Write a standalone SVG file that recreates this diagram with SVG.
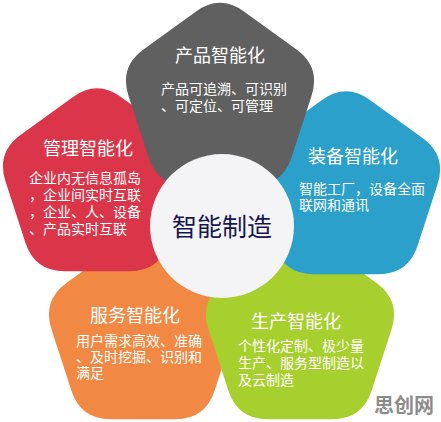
<svg xmlns="http://www.w3.org/2000/svg" width="441" height="422" viewBox="0 0 441 422">
<defs>
<path id="pent" d="M -24.27,-88.37 Q 0,-106 24.27,-88.37 L 76.54,-50.39 Q 100.81,-32.76 91.54,-4.23 L 71.58,57.23 Q 62.31,85.76 32.31,85.76 L -32.31,85.76 Q -62.31,85.76 -71.58,57.23 L -91.54,-4.23 Q -100.81,-32.76 -76.54,-50.39 Z"/>
</defs>
<style>
text{font-family:"Noto Sans CJK SC","Noto Sans",sans-serif;fill:#ffffff}
.t{font-size:18px;text-anchor:middle}
.b{font-size:14px}
.c{font-size:25px;text-anchor:middle;fill:#16174f}
.w{font-size:20px;font-weight:bold;fill:#8c8c8c;text-anchor:middle}
</style>
<rect width="441" height="422" fill="#ffffff"/>
<g id="service">
<use href="#pent" transform="translate(143,333.5)" fill="#f18944"/>
<text class="t" x="135" y="322">服务智能化</text>
<text class="b" x="76" y="346">用户需求高效、准确<tspan x="76" dy="16">、及时挖掘、识别和</tspan><tspan x="76" dy="16">满足</tspan></text>
</g>
<g id="production">
<use href="#pent" transform="translate(300,333.5)" fill="#a7cf2d"/>
<text class="t" x="296" y="328">生产智能化</text>
<text class="b" x="238" y="351">个性化定制、极少量<tspan x="238" dy="17">生产、服务型制造以</tspan><tspan x="238" dy="17">及云制造</tspan></text>
</g>
<g id="management">
<use href="#pent" transform="translate(97,185.5)" fill="#da3549"/>
<text class="t" x="88" y="155">管理智能化</text>
<text class="b" x="29" y="183">企业内无信息孤岛<tspan x="29" dy="17">，企业间实时互联</tspan><tspan x="29" dy="17">，企业、人、设备</tspan><tspan x="29" dy="17">、产品实时互联</tspan></text>
</g>
<g id="equipment">
<use href="#pent" transform="translate(346,188.5)" fill="#2aa0ca"/>
<text class="t" x="353" y="163">装备智能化</text>
<text class="b" x="299" y="194">智能工厂，设备全面<tspan x="299" dy="16">联网和通讯</tspan></text>
</g>
<g id="product">
<use href="#pent" transform="translate(220,100)" fill="#606060"/>
<text class="t" x="220" y="62">产品智能化</text>
<text class="b" x="161" y="94">产品可追溯、可识别<tspan x="161" dy="17">、可定位、可管理</tspan></text>
</g>
<g id="center">
<circle cx="222" cy="226" r="72" fill="#f4f4f6"/>
<text class="c" x="222" y="236">智能制造</text>
</g>
<g id="connectors"/>
<text class="w" x="404" y="413">思创网</text>
</svg>
